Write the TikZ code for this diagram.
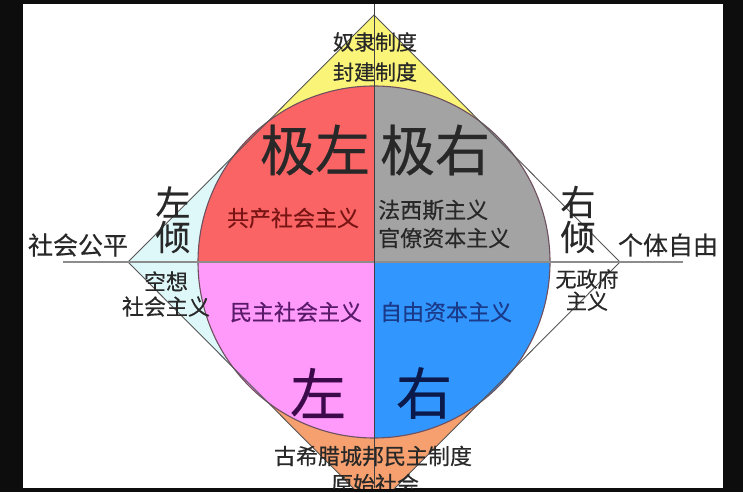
\documentclass[tikz,border=0pt]{standalone}
\usepackage{fontspec}
\setmainfont[FakeBold=0.4]{Noto Sans CJK SC}
\definecolor{cyellow}{RGB}{250,245,120}
\definecolor{ccyan}{RGB}{222,248,250}
\definecolor{corange}{RGB}{245,160,110}
\definecolor{cred}{RGB}{250,100,100}
\definecolor{cgray}{RGB}{163,163,163}
\definecolor{cpink}{RGB}{255,153,250}
\definecolor{cblue}{RGB}{50,150,255}
\definecolor{tdark}{RGB}{40,40,40}
\definecolor{tred}{RGB}{120,20,20}
\definecolor{tpurple}{RGB}{90,26,106}
\definecolor{tblue}{RGB}{26,58,138}
\definecolor{tbigpurple}{RGB}{60,10,75}
\definecolor{tbigblue}{RGB}{12,26,75}
\definecolor{edgec}{RGB}{85,85,85}
\definecolor{circc}{RGB}{110,80,95}
\begin{document}
\begin{tikzpicture}[x=1pt,y=1pt,
  txt/.style={inner sep=0pt,align=center,text=tdark},
  sz/.style={font=\fontsize{#1}{#1}\selectfont},
  dline/.style={draw=edgec,line width=0.9pt},
  vline/.style={draw=black!75,line width=1pt},
  hline/.style={draw=black!45,line width=2pt},
  circline/.style={draw=circc,line width=1.1pt}]
\useasboundingbox (0,0) rectangle (743,492);
\fill[black!95] (0,0) rectangle (743,492);
\fill[white] (23,4) rectangle (723,488);
\begin{scope}
\clip (23,4) rectangle (723,488);
\coordinate (C) at (374,230);
\coordinate (T) at (374,477);
\coordinate (L) at (128,230);
\coordinate (R) at (620,230);
\coordinate (B) at (374,-17);
\coordinate (mLT) at (251,353.5);
\coordinate (mTR) at (497,353.5);
\coordinate (mLB) at (251,106.5);
\coordinate (mBR) at (497,106.5);
\coordinate (vtop) at (374,488);
\coordinate (vbot) at (374,4);
\coordinate (hl) at (63,230);
\coordinate (hr) at (683,230);
% diamond regions
\fill[cyellow] (C) -- (mLT) -- (T) -- (mTR) -- cycle;
\fill[ccyan] (C) -- (mLT) -- (L) -- (mLB) -- cycle;
\fill[corange] (C) -- (mLB) -- (B) -- (mBR) -- cycle;
% circle quadrants
\fill[cred] (C) -- ++(0,176) arc[start angle=90,end angle=180,radius=176] -- cycle;
\fill[cgray] (C) -- ++(176,0) arc[start angle=0,end angle=90,radius=176] -- cycle;
\fill[cpink] (C) -- ++(-176,0) arc[start angle=180,end angle=270,radius=176] -- cycle;
\fill[cblue] (C) -- ++(0,-176) arc[start angle=270,end angle=360,radius=176] -- cycle;
\draw[circline] (C) circle[radius=176];
% diamond edges
\draw[dline] (T) -- (R) -- (B) -- (L) -- cycle;
% axes
\draw[hline] (hl) -- (hr);
\draw[vline] (vtop) -- (vbot);
% texts
\node[txt,sz=21] (nuli) at (375,450) {奴隶制度};
\node[txt,sz=21] (fengjian) at (375,420) {封建制度};
\node[txt,sz=55] (jizuo) at (315,342) {极左};
\node[txt,sz=55] (jiyou) at (435,342) {极右};
\node[txt,sz=35] (zuo1) at (173,290) {左};
\node[txt,sz=35] (qing1) at (173,255) {倾};
\node[txt,sz=35] (you1) at (578,290) {右};
\node[txt,sz=35] (qing2) at (578,255) {倾};
\node[txt,sz=25] (gongping) at (78,247) {社会公平};
\node[txt,sz=25] (ziyou) at (668,247) {个体自由};
\node[txt,sz=22,text=tred] (gongchan) at (293,274) {共产社会主义};
\node[txt,sz=22,anchor=west] (faxisi) at (378,282) {法西斯主义};
\node[txt,sz=22,anchor=west] (guanliao) at (378,254) {官僚资本主义};
\node[txt,font=\fontsize{22}{25}\selectfont] (kongxiang) at (166,198) {空想\\社会主义};
\node[txt,sz=22,text=tpurple] (minzhu) at (296,180) {民主社会主义};
\node[txt,sz=22,text=tblue] (ziben) at (446,180) {自由资本主义};
\node[txt,font=\fontsize{21}{22}\selectfont] (wuzhengfu) at (587,202) {无政府\\主义};
\node[txt,sz=56,text=tbigpurple] (zuo) at (318,99) {左};
\node[txt,sz=56,text=tbigblue] (you) at (424,99) {右};
\node[txt,sz=22] (guxila) at (373,36) {古希腊城邦民主制度};
\node[txt,sz=22] (yuanshi) at (375,8) {原始社会};
\end{scope}
\end{tikzpicture}
\end{document}
